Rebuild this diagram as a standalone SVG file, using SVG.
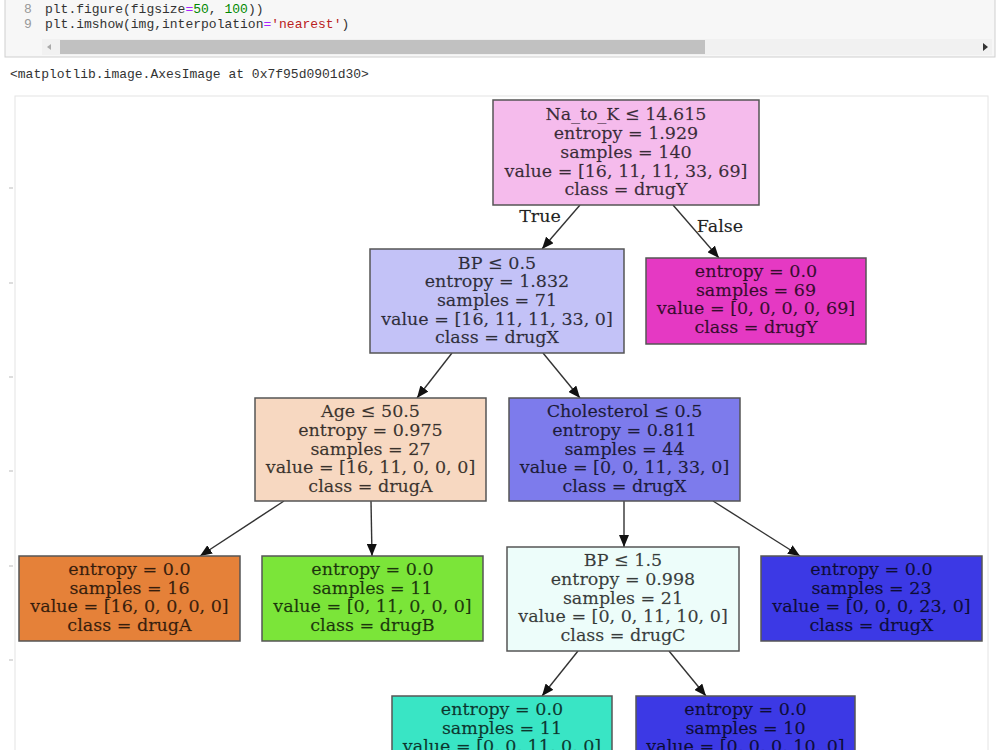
<svg xmlns="http://www.w3.org/2000/svg" width="1000" height="750" viewBox="0 0 1000 750">
<style>
.code{font-family:"Liberation Mono","DejaVu Sans Mono",monospace;font-size:13px;fill:#333}
.ln{font-family:"Liberation Mono","DejaVu Sans Mono",monospace;font-size:13px;fill:#999}
.box{stroke:#555;stroke-width:1.5}
.t{font-family:"DejaVu Serif","Liberation Serif",serif;font-size:17.5px;fill:#000;fill-opacity:0.75;stroke:#000;stroke-opacity:0.35;stroke-width:0.4;text-anchor:middle}
.edge{stroke:#333;stroke-width:1.4;fill:none;marker-end:url(#ah)}
.lbl{font-family:"DejaVu Serif","Liberation Serif",serif;font-size:17.5px;fill:#222;stroke:#222;stroke-opacity:0.3;stroke-width:0.4;text-anchor:middle}
.tick{stroke:#bbb;stroke-width:1}
</style>
<defs>
<marker id="ah" markerUnits="userSpaceOnUse" markerWidth="12" markerHeight="10" refX="12" refY="5" orient="auto">
<path d="M0,0 L12,5 L0,10 z" fill="#111"/>
</marker>
</defs>
<rect width="1000" height="750" fill="#fff"/>
<g id="code-cell">
<rect x="5" y="-5" width="990" height="62" fill="#f7f7f7" stroke="#cfcfcf"/>
<text class="ln" x="24" y="13">8</text>
<text class="ln" x="24" y="28">9</text>
<text class="code" x="45" y="13">plt.figure(figsize<tspan fill="#aa22ff">=</tspan><tspan fill="#080">50</tspan>, <tspan fill="#080">100</tspan>))</text>
<text class="code" x="45" y="28">plt.imshow(img,interpolation<tspan fill="#aa22ff">=</tspan><tspan fill="#ba2121">'nearest'</tspan>)</text>
<rect x="42" y="39" width="950" height="16" fill="#f1f1f1"/>
<rect x="60" y="40" width="645" height="14" fill="#c1c1c1"/>
<path d="M51,44 L47,47 L51,50 z" fill="#aaa"/>
<path d="M983,43 L988,47 L983,51 z" fill="#333"/>
</g>
<text class="code" x="10" y="78" fill="#222">&lt;matplotlib.image.AxesImage at 0x7f95d0901d30&gt;</text>
<g id="axes">
<rect x="15" y="96" width="973" height="700" fill="#fff" stroke="#e4e4e4"/>
<line class="tick" x1="9" y1="188" x2="13" y2="188"/>
<line class="tick" x1="9" y1="283" x2="13" y2="283"/>
<line class="tick" x1="9" y1="377" x2="13" y2="377"/>
<line class="tick" x1="9" y1="471" x2="13" y2="471"/>
<line class="tick" x1="9" y1="566" x2="13" y2="566"/>
<line class="tick" x1="9" y1="660" x2="13" y2="660"/>
</g>
<g id="connectors">
<line class="edge" x1="580" y1="205" x2="542" y2="249"/>
<line class="edge" x1="673" y1="205" x2="719" y2="258"/>
<line class="edge" x1="452" y1="353" x2="417" y2="398"/>
<line class="edge" x1="543" y1="353" x2="580" y2="398"/>
<line class="edge" x1="284" y1="501" x2="200" y2="556"/>
<line class="edge" x1="371" y1="501" x2="372" y2="556"/>
<line class="edge" x1="624" y1="501" x2="624" y2="547"/>
<line class="edge" x1="713" y1="501" x2="800" y2="556"/>
<line class="edge" x1="578" y1="651" x2="542" y2="696"/>
<line class="edge" x1="669" y1="651" x2="706" y2="696"/>
<text class="lbl" x="540" y="222">True</text>
<text class="lbl" x="720" y="232">False</text>
</g>
<g id="n0">
<rect class="box" x="493" y="100" width="266" height="105" fill="#f5bbec"/>
<text class="t" x="626" y="120">Na_to_K ≤ 14.615</text>
<text class="t" x="626" y="139">entropy = 1.929</text>
<text class="t" x="626" y="157.5">samples = 140</text>
<text class="t" x="626" y="176.5">value = [16, 11, 11, 33, 69]</text>
<text class="t" x="626" y="195">class = drugY</text>
</g>
<g id="n1">
<rect class="box" x="370" y="249" width="254" height="104" fill="#c3c2f7"/>
<text class="t" x="497" y="268.5">BP ≤ 0.5</text>
<text class="t" x="497" y="287">entropy = 1.832</text>
<text class="t" x="497" y="306">samples = 71</text>
<text class="t" x="497" y="324.5">value = [16, 11, 11, 33, 0]</text>
<text class="t" x="497" y="343">class = drugX</text>
</g>
<g id="n2">
<rect class="box" x="646" y="258" width="220" height="86" fill="#e539c3"/>
<text class="t" x="756" y="277">entropy = 0.0</text>
<text class="t" x="756" y="295.5">samples = 69</text>
<text class="t" x="756" y="314">value = [0, 0, 0, 0, 69]</text>
<text class="t" x="756" y="333">class = drugY</text>
</g>
<g id="n3">
<rect class="box" x="255" y="398" width="231" height="103" fill="#f7d8c1"/>
<text class="t" x="370.5" y="417">Age ≤ 50.5</text>
<text class="t" x="370.5" y="436">entropy = 0.975</text>
<text class="t" x="370.5" y="454.5">samples = 27</text>
<text class="t" x="370.5" y="473">value = [16, 11, 0, 0, 0]</text>
<text class="t" x="370.5" y="492">class = drugA</text>
</g>
<g id="n4">
<rect class="box" x="509" y="398" width="231" height="103" fill="#7d7bec"/>
<text class="t" x="624.5" y="417">Cholesterol ≤ 0.5</text>
<text class="t" x="624.5" y="436">entropy = 0.811</text>
<text class="t" x="624.5" y="454.5">samples = 44</text>
<text class="t" x="624.5" y="473">value = [0, 0, 11, 33, 0]</text>
<text class="t" x="624.5" y="492">class = drugX</text>
</g>
<g id="n5">
<rect class="box" x="19" y="556" width="221" height="85" fill="#e58139"/>
<text class="t" x="129.5" y="575">entropy = 0.0</text>
<text class="t" x="129.5" y="593.5">samples = 16</text>
<text class="t" x="129.5" y="612">value = [16, 0, 0, 0, 0]</text>
<text class="t" x="129.5" y="631">class = drugA</text>
</g>
<g id="n6">
<rect class="box" x="262" y="556" width="221" height="85" fill="#7be539"/>
<text class="t" x="372.5" y="575">entropy = 0.0</text>
<text class="t" x="372.5" y="593.5">samples = 11</text>
<text class="t" x="372.5" y="612">value = [0, 11, 0, 0, 0]</text>
<text class="t" x="372.5" y="631">class = drugB</text>
</g>
<g id="n7">
<rect class="box" x="507" y="547" width="232" height="104" fill="#edfdfa"/>
<text class="t" x="623" y="566">BP ≤ 1.5</text>
<text class="t" x="623" y="585">entropy = 0.998</text>
<text class="t" x="623" y="603.5">samples = 21</text>
<text class="t" x="623" y="622">value = [0, 0, 11, 10, 0]</text>
<text class="t" x="623" y="641">class = drugC</text>
</g>
<g id="n8">
<rect class="box" x="761" y="556" width="221" height="85" fill="#3c39e5"/>
<text class="t" x="871.5" y="575">entropy = 0.0</text>
<text class="t" x="871.5" y="593.5">samples = 23</text>
<text class="t" x="871.5" y="612">value = [0, 0, 0, 23, 0]</text>
<text class="t" x="871.5" y="631">class = drugX</text>
</g>
<g id="n9">
<rect class="box" x="392" y="696" width="220" height="86" fill="#39e5c5"/>
<text class="t" x="502" y="715">entropy = 0.0</text>
<text class="t" x="502" y="733.5">samples = 11</text>
<text class="t" x="502" y="752">value = [0, 0, 11, 0, 0]</text>
</g>
<g id="n10">
<rect class="box" x="636" y="696" width="219" height="86" fill="#3c39e5"/>
<text class="t" x="745.5" y="715">entropy = 0.0</text>
<text class="t" x="745.5" y="733.5">samples = 10</text>
<text class="t" x="745.5" y="752">value = [0, 0, 0, 10, 0]</text>
</g>
</svg>
